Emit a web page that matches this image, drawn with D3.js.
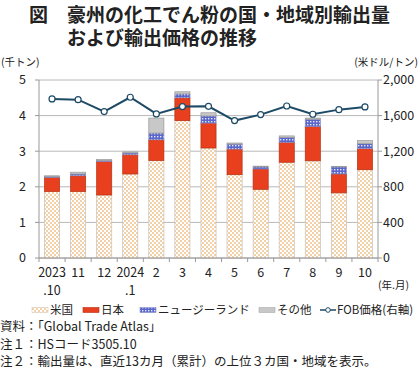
<!DOCTYPE html>
<html>
<head>
<meta charset="utf-8">
<script src="https://cdn.jsdelivr.net/npm/d3@7/dist/d3.min.js"></script>
<style>
body { margin: 0; background: #fff; }
svg text { font-family: "Noto Sans CJK JP", "Noto Sans", sans-serif; fill: #222; }
</style>
</head>
<body>
<svg id="chart" width="420" height="378"></svg>
<script>
// months (two-line labels)
const months = ["2023\n.10", "11", "12", "2024\n.1", "2", "3", "4", "5", "6", "7", "8", "9", "10"];
// thousand tons
const usa = [1.87, 1.87, 1.77, 2.36, 2.74, 3.86, 3.09, 2.34, 1.93, 2.69, 2.73, 1.83, 2.48];
const japan = [0.39, 0.44, 0.94, 0.54, 0.58, 0.64, 0.70, 0.72, 0.57, 0.56, 0.96, 0.53, 0.59];
const nz = [0.03, 0.05, 0.03, 0.05, 0.19, 0.11, 0.20, 0.14, 0.06, 0.14, 0.21, 0.20, 0.14];
const other = [0.02, 0.05, 0.03, 0.03, 0.42, 0.06, 0.09, 0.03, 0.02, 0.04, 0.03, 0.01, 0.09];
// USD per ton
const fob = [1787, 1779, 1645, 1806, 1619, 1701, 1704, 1544, 1611, 1708, 1615, 1667, 1697];

const leftTicks = [0, 1, 2, 3, 4, 5];
const rightTicks = [0, 400, 800, 1200, 1600, 2000];

const svg = d3.select("#chart");
const x0 = 39, x1 = 378, yTop = 80, yBot = 258;

const defs = svg.append("defs");
const pUs = defs.append("pattern").attr("id", "pUs").attr("width", 4).attr("height", 4)
  .attr("patternUnits", "userSpaceOnUse");
pUs.append("rect").attr("width", 4).attr("height", 4).attr("fill", "#fff");
pUs.append("rect").attr("width", 2).attr("height", 2).attr("fill", "#f2d0a8");
pUs.append("rect").attr("x", 2).attr("y", 2).attr("width", 2).attr("height", 2).attr("fill", "#f2d0a8");
const pNz = defs.append("pattern").attr("id", "pNz").attr("width", 3).attr("height", 3)
  .attr("patternUnits", "userSpaceOnUse");
pNz.append("rect").attr("width", 3).attr("height", 3).attr("fill", "#5a66c8");
pNz.append("rect").attr("x", 1).attr("y", 1).attr("width", 1.4).attr("height", 1.4).attr("fill", "#e6e8fa");

const x = d3.scaleBand().domain(d3.range(months.length)).range([x0, x1]).paddingInner(0.42).paddingOuter(0.21);
const y = d3.scaleLinear().domain([0, 5]).range([yBot, yTop]);
const y2 = d3.scaleLinear().domain([0, 2000]).range([yBot, yTop]);

// grid
svg.append("g").selectAll("line").data(leftTicks).join("line")
  .attr("x1", x0).attr("x2", x1).attr("y1", d => y(d)).attr("y2", d => y(d))
  .attr("stroke", "#b8b8b8").attr("stroke-width", 1);

// stacked bars
const layers = [
  { vals: usa, fill: "url(#pUs)", stroke: "#c8c0b8" },
  { vals: japan, fill: "#e8401e", stroke: "#b83010" },
  { vals: nz, fill: "url(#pNz)", stroke: "#8890c8" },
  { vals: other, fill: "#c8c8c8", stroke: "#9a9a9a" }
];
const base = months.map(() => 0);
layers.forEach(l => {
  const g = svg.append("g");
  months.forEach((m, i) => {
    const b = base[i], t = b + l.vals[i];
    g.append("rect")
      .attr("x", x(i)).attr("width", x.bandwidth())
      .attr("y", y(t)).attr("height", y(b) - y(t))
      .attr("fill", l.fill).attr("stroke", l.stroke).attr("stroke-width", 0.7);
    base[i] = t;
  });
});

// axes lines
svg.append("line").attr("x1", x0).attr("x2", x0).attr("y1", yTop).attr("y2", yBot).attr("stroke", "#999");
svg.append("line").attr("x1", x1).attr("x2", x1).attr("y1", yTop).attr("y2", yBot).attr("stroke", "#999");
svg.append("line").attr("x1", x0).attr("x2", x1).attr("y1", yBot).attr("y2", yBot).attr("stroke", "#999");

// tick marks
svg.append("g").selectAll("line").data(leftTicks).join("line")
  .attr("x1", x0 - 4).attr("x2", x0).attr("y1", d => y(d)).attr("y2", d => y(d)).attr("stroke", "#999");
svg.append("g").selectAll("line").data(rightTicks).join("line")
  .attr("x1", x1).attr("x2", x1 + 4).attr("y1", d => y2(d)).attr("y2", d => y2(d)).attr("stroke", "#999");
svg.append("g").selectAll("line").data(d3.range(months.length + 1)).join("line")
  .attr("x1", d => x0 + d * x.step()).attr("x2", d => x0 + d * x.step())
  .attr("y1", yBot).attr("y2", yBot + 4).attr("stroke", "#999");

// tick labels
svg.append("g").selectAll("text").data(leftTicks).join("text")
  .attr("x", 26).attr("y", d => y(d)).attr("dy", "0.35em").attr("text-anchor", "end")
  .attr("font-size", 12.5).attr("font-family", "Liberation Sans, Arial, sans-serif").text(d => d);
svg.append("g").selectAll("text").data(rightTicks).join("text")
  .attr("x", 383).attr("y", d => y2(d)).attr("dy", "0.35em")
  .attr("font-size", 12.5).attr("font-family", "Liberation Sans, Arial, sans-serif").text(d3.format(","));

months.forEach((m, i) => {
  const parts = m.split("\n");
  const t = svg.append("text").attr("x", x(i) + x.bandwidth() / 2).attr("y", 277)
    .attr("text-anchor", "middle").attr("font-size", 12.5)
    .attr("font-family", "Liberation Sans, Arial, sans-serif");
  parts.forEach((p, k) => t.append("tspan").attr("x", x(i) + x.bandwidth() / 2)
    .attr("dy", k === 0 ? 0 : 18).text(p));
});
svg.append("text").attr("x", 378).attr("y", 289).attr("font-size", 10.5).text("(年.月)");

// unit labels
svg.append("text").attr("x", 1).attr("y", 66).attr("font-size", 10.5).text("(千トン)");
svg.append("text").attr("x", 418).attr("y", 66).attr("text-anchor", "end").attr("font-size", 10.5).text("(米ドル/トン)");

// FOB line
const line = d3.line().x((d, i) => x(i) + x.bandwidth() / 2).y(d => y2(d));
svg.append("path").datum(fob).attr("d", line).attr("fill", "none")
  .attr("stroke", "#1d4a66").attr("stroke-width", 2);
svg.append("g").selectAll("circle").data(fob).join("circle")
  .attr("cx", (d, i) => x(i) + x.bandwidth() / 2).attr("cy", d => y2(d)).attr("r", 3)
  .attr("fill", "#fff").attr("stroke", "#1d4a66").attr("stroke-width", 1.2);

// title
const title = svg.append("text").attr("x", 29).attr("y", 22).attr("font-size", 19).attr("font-weight", "bold");
title.append("tspan").attr("x", 29).text("図");
title.append("tspan").attr("x", 67).text("豪州の化工でん粉の国・地域別輸出量");
title.append("tspan").attr("x", 67).attr("dy", 23).text("および輸出価格の推移");

// legend
const lg = svg.append("g").attr("font-size", 11.5);
const legendItems = [
  { label: "米国", fill: "url(#pUs)", stroke: "#d8c8b8", x: 32 },
  { label: "日本", fill: "#e8401e", stroke: "#b83010", x: 83 },
  { label: "ニュージーランド", fill: "url(#pNz)", stroke: "#8890c8", x: 140 },
  { label: "その他", fill: "#c8c8c8", stroke: "#aaa", x: 259 }
];
legendItems.forEach(it => {
  lg.append("rect").attr("x", it.x).attr("y", 307.5).attr("width", 16).attr("height", 5)
    .attr("fill", it.fill).attr("stroke", it.stroke).attr("stroke-width", 0.6);
  lg.append("text").attr("x", it.x + 18).attr("y", 314).text(it.label);
});
lg.append("line").attr("x1", 320).attr("x2", 336).attr("y1", 310).attr("y2", 310)
  .attr("stroke", "#1d4a66").attr("stroke-width", 1.5);
lg.append("circle").attr("cx", 328).attr("cy", 310).attr("r", 2.3).attr("fill", "#fff")
  .attr("stroke", "#1d4a66").attr("stroke-width", 1);
lg.append("text").attr("x", 337).attr("y", 314).text("FOB価格(右軸)");

// notes
const notes = ["資料：「Global Trade Atlas」", "注１：HSコード3505.10", "注２：輸出量は、直近13カ月（累計）の上位３カ国・地域を表示。"];
svg.append("g").selectAll("text").data(notes).join("text")
  .attr("x", 0).attr("y", (d, i) => 331 + i * 17.5).attr("font-size", 12.5).text(d => d);
</script>
</body>
</html>
